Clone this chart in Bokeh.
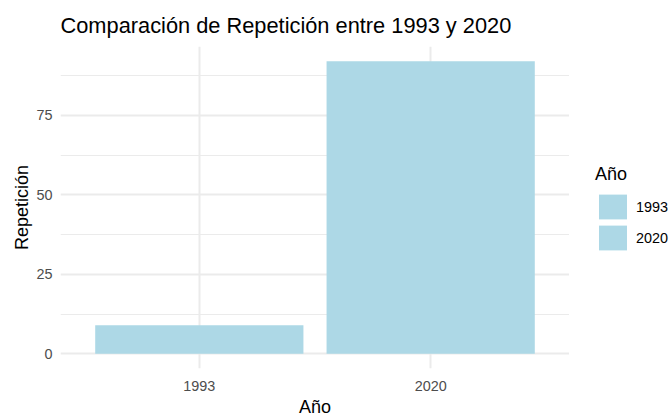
from bokeh.plotting import figure
from bokeh.layouts import row, column
from bokeh.models import (FactorRange, Range1d, FixedTicker, Legend, LegendItem,
                          ColumnDataSource, Spacer)
from bokeh.embed import file_html
from bokeh.resources import INLINE

# ---- data ----
anios = ["1993", "2020"]
repeticion = [9, 92]
y_ticks = [0, 25, 50, 75]
y_minor_ticks = [12.5, 37.5, 62.5, 87.5]
bar_color = "#ADD8E6"

FONT = "Liberation Sans"

source = ColumnDataSource(dict(anio=anios, rep=repeticion))
ymax = max(repeticion)

p = figure(
    width=560, height=418,
    x_range=FactorRange(factors=anios, range_padding=0.1, range_padding_units="absolute"),
    y_range=Range1d(-0.05 * ymax, 1.05 * ymax),
    output_backend="svg", toolbar_location=None,
    title="Comparación de Repetición entre 1993 y 2020",
    min_border_left=0, min_border_right=0, min_border_top=0, min_border_bottom=0,
)
p.outline_line_color = None
p.background_fill_color = "white"

r = p.vbar(x="anio", top="rep", width=0.9, source=source,
           fill_color=bar_color, line_color=None)

# title
p.title.text_font = FONT
p.title.text_font_size = "21.8px"
p.title.text_font_style = "normal"
p.title.text_color = "black"
p.title.offset = 0
p.title.standoff = 18

# axes
ticker = FixedTicker(ticks=y_ticks, minor_ticks=y_minor_ticks)
for ax in (p.xaxis[0], p.yaxis[0]):
    ax.axis_line_color = None
    ax.major_tick_line_color = None
    ax.minor_tick_line_color = None
    ax.major_tick_out = 0
    ax.major_tick_in = 0
    ax.minor_tick_out = 0
    ax.minor_tick_in = 0
    ax.major_label_text_font = FONT
    ax.major_label_text_font_size = "14.4px"
    ax.major_label_text_color = "#4D4D4D"
    ax.axis_label_text_font = FONT
    ax.axis_label_text_font_size = "18px"
    ax.axis_label_text_font_style = "normal"
    ax.axis_label_text_color = "black"
p.yaxis[0].ticker = ticker
p.xaxis.axis_label = "Año"
p.yaxis.axis_label = "Repetición"
p.yaxis.major_label_standoff = 8
p.yaxis.axis_label_standoff = 1
p.xaxis.major_label_standoff = 12
p.xaxis.axis_label_standoff = 3

# grids
p.ygrid.ticker = ticker
p.xgrid.grid_line_color = "#EBEBEB"
p.ygrid.grid_line_color = "#EBEBEB"
p.xgrid.grid_line_width = 2
p.ygrid.grid_line_width = 2
p.ygrid.minor_grid_line_color = "#EBEBEB"
p.ygrid.minor_grid_line_width = 1

# legend panel: a narrow companion figure whose (zero-width) bars stay out of
# view, used only so that its legend can sit to the right of the main panel
pl = figure(width=102, height=418,
            x_range=FactorRange(factors=anios), y_range=Range1d(1000, 1001),
            output_backend="svg", toolbar_location=None,
            x_axis_location=None, y_axis_location=None,
            min_border_left=0, min_border_right=0, min_border_top=0, min_border_bottom=0)
pl.outline_line_color = None
pl.grid.visible = False
rl = pl.vbar(x="anio", top="rep", width=0, source=source,
             fill_color=bar_color, line_color=None)
items = [LegendItem(label=a, renderers=[rl], index=i) for i, a in enumerate(anios)]
legend = Legend(
    items=items, title="Año",
    title_text_font=FONT, title_text_font_size="18px", title_text_font_style="normal",
    title_text_color="black",
    label_text_font=FONT, label_text_font_size="14.4px", label_text_color="black",
    glyph_width=35, glyph_height=31, spacing=0, label_standoff=6,
    padding=0, margin=0, border_line_color=None, background_fill_alpha=0,
    title_standoff=6, location=(26, 115),
)
pl.add_layout(legend, "center")

layout = column(Spacer(height=1), row(Spacer(width=9), p, pl, spacing=0), spacing=0)
open("out.html", "w").write(file_html(layout, INLINE))
